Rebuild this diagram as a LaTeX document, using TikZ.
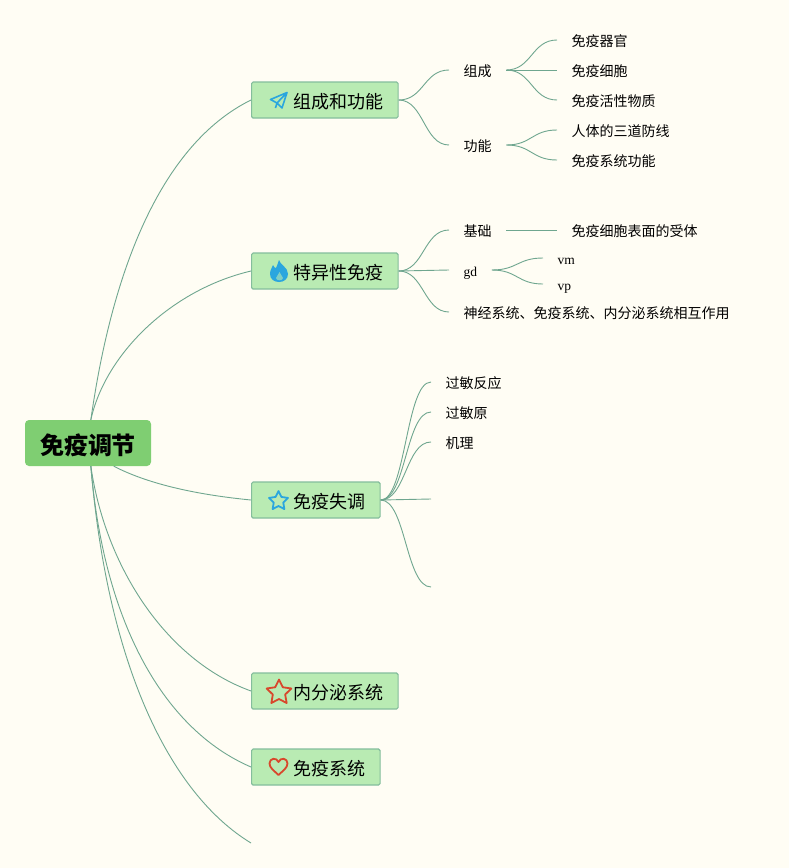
\documentclass[tikz,border=0pt]{standalone}
\usepackage{fontspec}
\newfontfamily\cjk{Noto Sans CJK SC}
\newfontfamily\latn{Liberation Serif}
\usetikzlibrary{calc}
\definecolor{paper}{HTML}{FFFDF4}
\definecolor{linkc}{HTML}{6FA68F}
\definecolor{topicc}{HTML}{B9EBB3}
\definecolor{topicl}{HTML}{84BD9C}
\definecolor{rootc}{HTML}{7FCE72}
\definecolor{iconb}{HTML}{2AA6DE}
\definecolor{iconr}{HTML}{D8482C}
\tikzset{
rootbox/.style={fill=rootc,rounded corners=4pt,minimum width=126pt,minimum height=46pt,inner sep=0pt,text height=22pt,text depth=0pt,font=\cjk\bfseries\fontsize{24}{26}\selectfont},
topicbox/.style={draw=topicl,fill=topicc,line width=1.2pt,rounded corners=1.5pt,anchor=west,minimum height=36pt,inner xsep=14.5pt,inner ysep=0pt,text height=17pt,text depth=0pt,font=\cjk\fontsize{18}{20}\selectfont},
leaf/.style={anchor=west,inner xsep=14.5pt,inner ysep=0pt,text height=13pt,text depth=0pt,font=\cjk\fontsize{14}{16}\selectfont},
small/.style={leaf,font=\latn\fontsize{13.5}{15}\selectfont,text height=12pt,text depth=0pt},
link/.style={draw=linkc,line width=0.9pt,to path={let \p1=(\tikztostart),\p2=(\tikztotarget) in .. controls ({0.5*\x1+0.5*\x2},\y1) and ({0.5*\x1+0.5*\x2},\y2) .. (\tikztotarget)}},
rootlink/.style={draw=linkc,line width=0.9pt},
}
\newcommand{\icongap}{\hspace*{27.5pt}}
\begin{document}
\begin{tikzpicture}[x=1pt,y=-1pt]
\useasboundingbox (0,0) rectangle (789,868);
\fill[paper] (0,0) rectangle (789,868);
% main branches
\node[rootbox] (root) at (88,443) {免疫调节};
\node[topicbox] (zucheng) at (251,100) {\icongap 组成和功能};
\node[topicbox] (teyi) at (251,271) {\icongap 特异性免疫};
\node[topicbox] (shitiao) at (251,500) {\icongap 免疫失调};
\node[topicbox] (neifen) at (251,691) {\icongap 内分泌系统};
\node[topicbox] (xitong) at (251,767) {\icongap 免疫系统};
\coordinate (rootend) at (251,843);
\draw[rootlink] (root.83) .. controls (115,250) and (170,140) .. (zucheng.west);
\draw[rootlink] (root.83) .. controls (105,355) and (170,290) .. (teyi.west);
\draw[rootlink] (root.-42) .. controls (150,485) and (200,495) .. (shitiao.west);
\draw[rootlink] (root.-83) .. controls (105,565) and (165,660) .. (neifen.west);
\draw[rootlink] (root.-83) .. controls (104,625) and (165,730) .. (xitong.west);
\draw[rootlink] (root.-83) .. controls (108,670) and (172,795) .. (rootend);
% zucheng
\node[leaf] (zc) at (449,70) {组成};
\node[leaf] (gn) at (449,145) {功能};
\draw[link] (zucheng.east) to (zc.west);
\draw[link] (zucheng.east) to (gn.west);
\node[leaf] (zc1) at (557,40) {免疫器官};
\node[leaf] (zc2) at (557,70) {免疫细胞};
\node[leaf] (zc3) at (557,100) {免疫活性物质};
\node[leaf] (gn1) at (557,130) {人体的三道防线};
\node[leaf] (gn2) at (557,160) {免疫系统功能};
\foreach \k in {1,2,3}{\draw[link] (zc.east) to (zc\k.west);}
\foreach \k in {1,2}{\draw[link] (gn.east) to (gn\k.west);}
% teyi
\node[leaf] (jc) at (449,230) {基础};
\node[small] (gd) at (449,270) {gd};
\node[leaf] (sj) at (449,312) {神经系统、免疫系统、内分泌系统相互作用};
\foreach \k in {jc,gd,sj}{\draw[link] (teyi.east) to (\k.west);}
\node[leaf] (jc1) at (557,230) {免疫细胞表面的受体};
\draw[link] (jc.east) to (jc1.west);
\node[small] (vm) at (543,258) {vm};
\node[small] (vp) at (543,284) {vp};
\draw[link] (gd.east) to (vm.west);
\draw[link] (gd.east) to (vp.west);
% shitiao
\node[leaf] (gm1) at (431,382) {过敏反应};
\node[leaf] (gm2) at (431,412) {过敏原};
\node[leaf] (gm3) at (431,442) {机理};
\coordinate (st4) at (431,499);
\coordinate (st5) at (431,587);
\foreach \k in {gm1,gm2,gm3}{\draw[link] (shitiao.east) to (\k.west);}
\foreach \k in {st4,st5}{\draw[link] (shitiao.east) to (\k);}
% icons
\draw[iconb,line width=1.6pt,line join=round] (270.5,99.5) -- (287,92.5) -- (282,108) -- (277,103) -- cycle (287,92.5) -- (277,103) -- (275.5,108);
\fill[iconb] (279,260) .. controls (280,265) and (288,267) .. (288,274) .. controls (288,279) and (284,282) .. (279,282) .. controls (274,282) and (270,279) .. (270,274) .. controls (270,270) and (272,268) .. (273,265) .. controls (274,267) and (275,268) .. (276,268) .. controls (277,266) and (278,263) .. (279,260) -- cycle;
\fill[topicc!60!iconb] (279.5,272) .. controls (280,275) and (283,276) .. (283,278) .. controls (283,281) and (276,281) .. (276,278) .. controls (276,276) and (279,275) .. (279.5,272) -- cycle;
\draw[iconb,line width=1.8pt,line join=round] (278.5,491) \foreach \k in {1,...,4}{-- ($(278.5,501)+({-90+\k*72-36}:5)$) -- ($(278.5,501)+({-90+\k*72}:10)$)} -- ($(278.5,501)+(-126:5)$) -- cycle;
\draw[iconr,line width=1.8pt,line join=round] (279,679.5) \foreach \k in {1,...,4}{-- ($(279,692.5)+({-90+\k*72-36}:6.5)$) -- ($(279,692.5)+({-90+\k*72}:13)$)} -- ($(279,692.5)+(-126:6.5)$) -- cycle;
\draw[iconr,line width=1.8pt,line join=round] (278.5,775) .. controls (274.5,771) and (269.5,768) .. (269.5,763.5) .. controls (269.5,758) and (276.5,757) .. (278.5,762) .. controls (280.5,757) and (287.5,758) .. (287.5,763.5) .. controls (287.5,768) and (282.5,771) .. (278.5,775) -- cycle;
\end{tikzpicture}
\end{document}
